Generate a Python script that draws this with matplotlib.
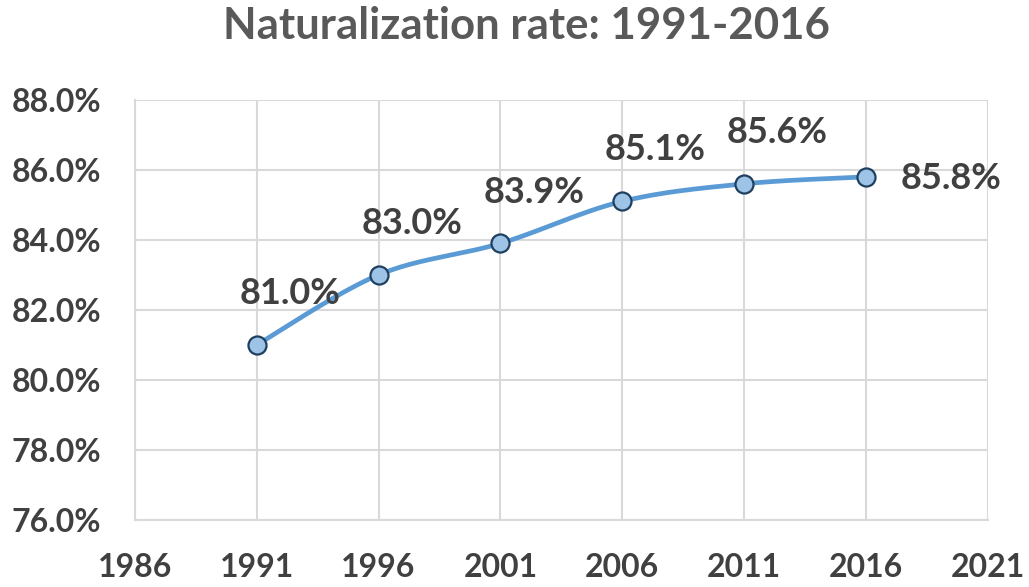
import numpy as np
import matplotlib
matplotlib.use("Agg")
from matplotlib import pyplot as plt
from matplotlib.ticker import FuncFormatter

years = [1991, 1996, 2001, 2006, 2011, 2016]
rates = [81.0, 83.0, 83.9, 85.1, 85.6, 85.8]
labels = ["81.0%", "83.0%", "83.9%", "85.1%", "85.6%", "85.8%"]
x_ticks = [1986, 1991, 1996, 2001, 2006, 2011, 2016, 2021]
y_ticks = [76, 78, 80, 82, 84, 86, 88]

LINE = "#5b9bd5"
TEXT = "#404040"
GRID = "#d9d9d9"

plt.rcParams['font.family'] = ['Lato', 'DejaVu Sans']


def smooth(xs, ys, n=40):
    # bezier through points, catmull-rom style control points (like excel smoothing)
    xs = np.asarray(xs, float)
    ys = np.asarray(ys, float)
    px = np.concatenate([[xs[0]], xs, [xs[-1]]])
    py = np.concatenate([[ys[0]], ys, [ys[-1]]])
    outx, outy = [], []
    t = np.linspace(0, 1, n)
    for i in range(1, len(px) - 2):
        p0 = np.array([px[i], py[i]])
        p3 = np.array([px[i + 1], py[i + 1]])
        p1 = p0 + (np.array([px[i + 1], py[i + 1]]) - np.array([px[i - 1], py[i - 1]])) / 6.0
        p2 = p3 - (np.array([px[i + 2], py[i + 2]]) - np.array([px[i], py[i]])) / 6.0
        for tt in t:
            b = ((1 - tt) ** 3) * p0 + 3 * ((1 - tt) ** 2) * tt * p1 + 3 * (1 - tt) * tt ** 2 * p2 + tt ** 3 * p3
            outx.append(b[0])
            outy.append(b[1])
    return outx, outy


fig = plt.figure(figsize=(10.29, 5.87), dpi=100)
ax = fig.add_axes([0.131, 0.114, 0.829, 0.716])

sx, sy = smooth(years, rates)
ax.plot(sx, sy, color=LINE, lw=3.4, zorder=3, solid_capstyle="round")
ax.plot(years, rates, "o", ms=13, mfc="#9dc3e6", mec="#1f3f5f", mew=1.6, zorder=4)

for i, (x, y, s) in enumerate(zip(years, rates, labels)):
    if i == len(years) - 1:
        ax.annotate(s, (x, y), xytext=(25, -1), textcoords="offset points",
                    ha="left", va="center", fontsize=26, fontweight="bold", color=TEXT)
    else:
        ax.annotate(s, (x, y), xytext=(24, 37), textcoords="offset points",
                    ha="center", va="center", fontsize=26, fontweight="bold", color=TEXT)

ax.set_xlim(1986, 2021)
ax.set_ylim(76, 88)
ax.set_xticks(x_ticks)
ax.set_yticks(y_ticks)
ax.yaxis.set_major_formatter(FuncFormatter(lambda v, p: "%.1f%%" % v))
ax.grid(True, color=GRID, lw=1.5)
ax.set_axisbelow(True)
for sp in ["top", "right"]:
    ax.spines[sp].set_visible(False)
for sp in ["left", "bottom"]:
    ax.spines[sp].set_color(GRID)
    ax.spines[sp].set_linewidth(1.5)
ax.tick_params(length=0, labelsize=23, labelcolor=TEXT)
ax.tick_params(axis="y", pad=24)
ax.tick_params(axis="x", pad=24)
for t in ax.get_xticklabels() + ax.get_yticklabels():
    t.set_fontweight("bold")

fig.suptitle("Naturalization rate: 1991-2016", x=0.512, y=0.99, fontsize=31.5,
             fontweight="bold", color="#595959")

fig.savefig("out.png", dpi=100, facecolor="white")
